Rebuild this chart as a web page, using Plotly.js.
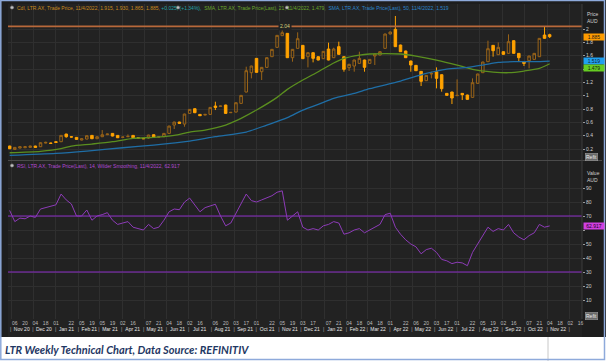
<!DOCTYPE html>
<html><head><meta charset="utf-8">
<script src="https://cdn.plot.ly/plotly-3.0.1.min.js"></script>
<style>html,body{margin:0;padding:0;background:#fff;}#chart{width:606px;height:361px;}</style>
</head><body><div id="chart"></div>
<script>
// ---- DATA (weekly candles, LTR.AX) ----
const firstWeek = '2020-10-30';
const opens = [0.245,0.195,0.215,0.22,0.225,0.245,0.235,0.29,0.29,0.31,0.31,0.425,0.385,0.375,0.335,0.35,0.405,0.355,0.385,0.415,0.435,0.405,0.375,0.385,0.405,0.37,0.36,0.365,0.415,0.38,0.385,0.435,0.56,0.605,0.575,0.735,
0.805,0.72,0.71,0.72,0.845,0.84,0.86,0.745,0.755,0.885,1.055,1.345,1.56,1.36,1.425,1.585,1.725,1.90,1.935,1.57,1.71,1.755,1.585,1.645,1.585,1.555,1.70,1.57,1.735,1.585,1.42,1.445,1.485,1.535,1.485,
1.595,1.61,1.71,1.925,1.995,1.76,1.67,1.52,1.455,1.365,1.225,1.325,1.36,1.315,1.035,1.055,1.0,1.035,1.01,0.975,1.185,1.345,1.51,1.755,1.615,1.66,1.635,1.825,1.635,1.505,1.525,1.545,1.585,1.91,1.915];
const highs = [0.25,0.23,0.24,0.24,0.25,0.25,0.30,0.31,0.295,0.315,0.41,0.43,0.395,0.38,0.36,0.405,0.41,0.39,0.485,0.43,0.44,0.41,0.385,0.42,0.41,0.375,0.365,0.415,0.42,0.39,0.44,0.55,0.61,0.61,0.73,0.80,
0.81,0.725,0.725,0.83,0.91,0.85,0.865,0.755,0.90,1.01,1.435,1.45,1.565,1.43,1.575,1.70,1.91,1.985,1.94,1.70,1.95,1.76,1.65,1.65,1.59,1.67,1.795,1.72,1.81,1.59,1.48,1.54,1.66,1.54,1.55,
1.63,1.67,1.93,1.96,2.195,1.765,1.675,1.525,1.46,1.37,1.31,1.36,1.425,1.32,1.04,1.06,1.245,1.04,1.015,1.26,1.33,1.51,1.825,1.76,1.80,1.665,1.92,1.83,1.64,1.51,1.60,1.64,1.865,2.045,1.93];
const lows = [0.20,0.19,0.21,0.215,0.22,0.22,0.23,0.285,0.28,0.295,0.305,0.37,0.375,0.34,0.33,0.345,0.35,0.35,0.38,0.41,0.39,0.365,0.37,0.38,0.365,0.36,0.35,0.355,0.37,0.375,0.38,0.43,0.50,0.58,0.535,0.73,
0.74,0.695,0.705,0.715,0.785,0.835,0.73,0.74,0.75,0.88,1.05,1.26,1.345,1.235,1.42,1.58,1.72,1.895,1.565,1.51,1.705,1.55,1.425,1.50,1.53,1.55,1.53,1.565,1.615,1.36,1.37,1.36,1.48,1.36,1.48,
1.46,1.605,1.705,1.92,1.73,1.655,1.565,1.36,1.37,1.145,1.22,1.26,1.11,1.06,1.0,0.875,0.995,0.935,0.94,0.97,1.18,1.34,1.505,1.585,1.61,1.615,1.63,1.63,1.51,1.445,1.41,1.54,1.58,1.855,1.865];
const closes = [0.205,0.225,0.235,0.235,0.245,0.225,0.295,0.30,0.285,0.30,0.405,0.385,0.38,0.345,0.355,0.40,0.355,0.385,0.415,0.425,0.395,0.37,0.38,0.39,0.37,0.365,0.355,0.41,0.375,0.385,0.435,0.545,0.605,0.585,0.725,0.795,
0.745,0.70,0.72,0.825,0.825,0.845,0.735,0.75,0.895,1.005,1.375,1.445,1.35,1.425,1.57,1.695,1.905,1.945,1.57,1.695,1.855,1.555,1.645,1.56,1.535,1.665,1.535,1.70,1.62,1.395,1.47,1.535,1.56,1.425,1.545,
1.625,1.66,1.925,1.955,1.735,1.66,1.57,1.46,1.375,1.215,1.305,1.335,1.26,1.105,1.005,0.965,1.005,1.015,0.945,1.195,1.325,1.505,1.705,1.675,1.725,1.62,1.81,1.635,1.57,1.485,1.595,1.635,1.86,1.86,1.885];

// SMA values at candle indices
const sma21Idx = [0,6,10,12,16,20,24,28,32,35,38,42,45,48,52,54,57,60,63,65,68,70,76,79,83,87,90,94,97,100,103,105];
const sma21    = [0.145,0.165,0.205,0.245,0.275,0.31,0.36,0.375,0.405,0.455,0.485,0.56,0.66,0.785,0.975,1.095,1.235,1.36,1.49,1.56,1.61,1.625,1.625,1.595,1.535,1.46,1.395,1.355,1.345,1.37,1.41,1.479];
const sma50Idx = [0,9,15,22,28,35,40,46,50,54,57,60,63,67,70,76,81,85,89,92,95,98,102,105];
const sma50    = [0.105,0.135,0.17,0.22,0.26,0.32,0.385,0.455,0.56,0.67,0.785,0.87,0.96,1.035,1.105,1.22,1.335,1.40,1.425,1.46,1.50,1.51,1.51,1.519];

// RSI(14) per candle
const rsi = [74,66,68.5,68,70,69,75,76,77,78,85.7,81.5,78.6,70,70,74.3,67,70,71,72.4,67,64,65,66,62,61,60,64,61,62,67,73,75,74.5,80,82.8,
78,73,76,77,78.4,70,63,65,72,78,85.7,81,80,81.5,83,84.5,87,88,67,70,73,62,60,61,60,63,64,66,65,57,58,60,61,58,60,
62,64,71,72,62,57,53,50,48,43,46,47,44,39,38,36,37,36.5,34.5,44,50,56,62,59,61,60,64,58,55,53,56,58,64,62,62.917];

const dayTicks = ['2020-11-06','2020-11-20','2020-12-04','2020-12-18','2021-01-01','2021-01-22','2021-02-05','2021-02-19','2021-03-05','2021-03-19','2021-04-02','2021-04-16','2021-05-07','2021-05-21','2021-06-04','2021-06-18','2021-07-02','2021-07-16','2021-08-06','2021-08-20','2021-09-03','2021-09-17','2021-10-01','2021-10-22','2021-11-05','2021-11-19','2021-12-03','2021-12-17','2022-01-07','2022-01-21','2022-02-04','2022-02-18','2022-03-04','2022-03-18','2022-04-01','2022-04-22','2022-05-06','2022-05-20','2022-06-03','2022-06-17','2022-07-01','2022-07-22','2022-08-05','2022-08-19','2022-09-02','2022-09-16','2022-10-07','2022-10-21','2022-11-04','2022-11-18','2022-12-02','2022-12-16'];
const monthLabels = ['Nov 20','Dec 20','Jan 21','Feb 21','Mar 21','Apr 21','May 21','Jun 21','Jul 21','Aug 21','Sep 21','Oct 21','Nov 21','Dec 21','Jan 22','Feb 22','Mar 22','Apr 22','May 22','Jun 22','Jul 22','Aug 22','Sep 22','Oct 22','Nov 22'];
const priceTicks = [0.2,0.4,0.6,0.8,1,1.2,1.4,1.6,1.8,2];
const rsiTicks = [10,20,30,40,50,60,70,80,90];
const resistance = 2.04;
const rsiUpper = 70, rsiLower = 30;

// ---- build ----
const dates = [];
{
  const t0 = Date.UTC(2020,9,30);
  for (let i = 0; i < closes.length; i++) dates.push(new Date(t0 + i*7*86400000).toISOString().slice(0,10));
}
// plot area spans y 4..337: price panel, RSI panel, and a thin band for the month row
const W = 606, H = 361, L = 8, R = 582, T = 4, B = 337;
const px = x => (x - L) / (R - L);
const py = y => (B - y) / (B - T);
const XRANGE = ['2020-10-27 18:00','2022-12-18'];
const MONTHS = ['Jan','Feb','Mar','Apr','May','Jun','Jul','Aug','Sep','Oct','Nov','Dec'];
const fmt = t => new Date(t).toISOString().slice(0,16).replace('T',' ');
const mStart = m => Date.UTC(2000+parseInt(m.slice(4)), MONTHS.indexOf(m.slice(0,3)), 1);
const monthMid = monthLabels.map(m => fmt(mStart(m) + 14.5*86400e3));
const monthSep = monthLabels.map(m => fmt(mStart(m) - 0.5*86400e3)).concat([fmt(Date.UTC(2022,11,1) - 0.5*86400e3)]);
const fnt = 'Liberation Sans Narrow, Liberation Sans, Arial, sans-serif';
const bandRow = 0.39; // month row height inside the label band (0 = bottom, 1 = top)

const traces = [
  {type:'candlestick', x:dates, open:opens, high:highs, low:lows, close:closes, xaxis:'x', yaxis:'y',
   increasing:{line:{color:'#9a6418', width:1}, fillcolor:'rgba(0,0,0,0)'},
   decreasing:{line:{color:'#ffa200', width:1}, fillcolor:'#ffa200'}, whiskerwidth:0, hoverinfo:'skip'},
  {type:'scatter', mode:'lines', x:sma21Idx.map(i=>dates[i]), y:sma21, yaxis:'y',
   line:{color:'#5b8f1f', width:1.3, shape:'spline', smoothing:0.7}, hoverinfo:'skip'},
  {type:'scatter', mode:'lines', x:sma50Idx.map(i=>dates[i]), y:sma50, yaxis:'y',
   line:{color:'#1f6ea6', width:1.3, shape:'spline', smoothing:0.7}, hoverinfo:'skip'},
  {type:'scatter', mode:'lines', x:dates, y:rsi, yaxis:'y2',
   line:{color:'#8d3bb8', width:1}, hoverinfo:'skip'},
  {type:'scatter', mode:'text', x:monthMid, y:monthMid.map(()=>bandRow), xaxis:'x3', yaxis:'y3', text:monthLabels,
   textposition:'middle center', textfont:{family:fnt, size:5, color:'#e6e6e6'}, hoverinfo:'skip', cliponaxis:false},
  {type:'scatter', mode:'text', x:monthSep, y:monthSep.map(()=>bandRow), xaxis:'x3', yaxis:'y3', text:monthSep.map(()=>'|'),
   textposition:'middle center', textfont:{family:fnt, size:5, color:'#a8a8a8'}, hoverinfo:'skip', cliponaxis:false}
];

const ann = [];
// headers
ann.push({xref:'paper', yref:'paper', x:px(15), y:py(7.5), xanchor:'left', yanchor:'middle', showarrow:false,
  font:{family:fnt, size:5, color:'#c98a1e'},
  text:'Cdl, LTR.AX, Trade Price, 11/4/2022, 1.915, 1.930, 1.865, 1.885, <span style="color:#22a3a8">+0.025, (+1.34%),</span>  <span style="color:#6aa82a">SMA, LTR.AX, Trade Price(Last), 21, 11/4/2022, 1.479,</span>  <span style="color:#2a86cc">SMA, LTR.AX, Trade Price(Last), 50, 11/4/2022, 1.519</span>'});
ann.push({xref:'paper', yref:'paper', x:px(15), y:py(165.5), xanchor:'left', yanchor:'middle', showarrow:false,
  font:{family:fnt, size:5, color:'#b048d0'}, text:'RSI, LTR.AX, Trade Price(Last), 14, Wilder Smoothing, 11/4/2022, 62.917'});
// axis unit labels
[['Price',14],['AUD',21],['Value',173],['AUD',180]].forEach(([t,y])=>ann.push({xref:'paper', yref:'paper', x:px(585), y:py(y), xanchor:'left', yanchor:'middle', showarrow:false, font:{family:fnt, size:5, color:'#cfcfcf'}, text:t}));
[157,316].forEach(y=>ann.push({xref:'paper', yref:'paper', x:px(584.5), y:py(y), xanchor:'left', yanchor:'middle', showarrow:false, font:{family:fnt, size:5, color:'#eeeeee'}, text:'Refit', bgcolor:'#6a6a6a', bordercolor:'#a0a0a0', borderwidth:0.5, borderpad:0.5}));
// last value boxes
const box = (yref, yv, txt, bg, fg, ys) => ann.push({xref:'paper', yref:yref, x:px(583), y:yv, yshift:ys||0, xanchor:'left', yanchor:'middle', showarrow:false, font:{family:fnt, size:5, color:fg}, text:txt, bgcolor:bg, borderpad:0, width:20, height:5.6});
box('y', closes[closes.length-1], '1.885', '#ff9c00', '#1a1a1a');
box('y', sma50[sma50.length-1], '1.519', '#20a0f0', '#102030', 0.5);
box('y', sma21[sma21.length-1], '1.479', '#66cc22', '#102010', -4);
box('y2', rsi[rsi.length-1], '62.917', '#d040e0', '#1a001a');
// resistance label
ann.push({xref:'paper', yref:'y', x:px(285), y:resistance, xanchor:'center', yanchor:'middle', showarrow:false, font:{family:fnt, size:5, color:'#d9cf7a'}, text:String(resistance), bgcolor:'#222222', borderpad:1});
// caption
ann.push({xref:'paper', yref:'paper', x:px(3), y:py(349.5), xanchor:'left', yanchor:'middle', showarrow:false,
  font:{family:'Lato, Open Sans, sans-serif', size:11, color:'#1f3864'},
  text:'<b><i>LTR Weekly Technical Chart, Data Source: REFINITIV</i></b>'});

const shapes = [
  {type:'rect', xref:'paper', yref:'paper', x0:px(-2), x1:px(610), y0:py(337), y1:py(365), fillcolor:'#ffffff', line:{width:0}},
  {type:'line', xref:'paper', yref:'paper', x0:px(548), x1:px(548), y0:py(337), y1:py(361), line:{color:'#c8c8c8', width:1}},
  {type:'rect', xref:'paper', yref:'paper', x0:px(0.8), x1:px(604.5), y0:py(0.5), y1:py(359.5), line:{color:'#8eaadb', width:1.5}, fillcolor:'rgba(0,0,0,0)'},
  {type:'line', xref:'paper', yref:'y', x0:0, x1:1, y0:resistance, y1:resistance, line:{color:'#b8683a', width:1.6}},
  {type:'line', xref:'paper', yref:'y2', x0:0, x1:1, y0:rsiUpper, y1:rsiUpper, line:{color:'#8a2cc4', width:1.2}},
  {type:'line', xref:'paper', yref:'y2', x0:0, x1:1, y0:rsiLower, y1:rsiLower, line:{color:'#8a2cc4', width:1.2}},
  {type:'line', xref:'paper', yref:'paper', x0:0, x1:px(602), y0:py(160.5), y1:py(160.5), line:{color:'#4a4a4a', width:1}},
  {type:'line', xref:'paper', yref:'paper', x0:1, x1:1, y0:py(319), y1:1, line:{color:'#3c3c3c', width:1}}
];
[[12,7.5],[178,7.5],[287,7.5],[12,165.5]].forEach(([x,y])=>shapes.push({type:'circle', xref:'paper', yref:'paper', x0:px(x-1.6), x1:px(x+1.6), y0:py(y+1.6), y1:py(y-1.6), fillcolor:'#bfbfbf', line:{color:'#888', width:0.5}}));

const layout = {
  width:W, height:H, paper_bgcolor:'#1d1d1d', plot_bgcolor:'#222222',
  margin:{l:L, r:W-R, t:T, b:H-B}, showlegend:false,
  font:{family:fnt, size:5, color:'#cfcfcf'},
  xaxis:{type:'date', range:XRANGE, anchor:'y2', rangeslider:{visible:false},
    tickmode:'array', tickvals:dayTicks, ticktext:dayTicks.map(d=>d.slice(8,10)), tickangle:0, tickfont:{family:fnt, size:5, color:'#bdbdbd'},
    ticks:'', showgrid:false, zeroline:false, showline:false, fixedrange:true, automargin:false,
    minor:{tick0:'2020-11-01', dtick:'M1', showgrid:true, gridcolor:'#2f2f2f', gridwidth:1, ticks:''}},
  xaxis3:{type:'date', range:XRANGE, anchor:'y3', visible:false, showgrid:false, fixedrange:true},
  yaxis:{domain:[py(160), 1], range:[0.036, 2.375], side:'right', tickvals:priceTicks, ticktext:priceTicks.map(v=>v===1.4?'':String(v)),
    ticks:'outside', ticklen:2, tickcolor:'#999', tickfont:{family:fnt, size:5, color:'#cfcfcf'},
    showgrid:true, gridcolor:'#2f2f2f', zeroline:false, showline:false, fixedrange:true},
  yaxis2:{domain:[py(319), py(161)], range:[-3.57, 109.3], side:'right', tickvals:rsiTicks, ticktext:rsiTicks.map(v=>v===60?'':String(v)),
    ticks:'outside', ticklen:2, tickcolor:'#999', tickfont:{family:fnt, size:5, color:'#cfcfcf'},
    showgrid:true, gridcolor:'#2f2f2f', zeroline:false, showline:false, fixedrange:true},
  yaxis3:{domain:[0, py(319)], range:[0, 1], visible:false, showgrid:false, fixedrange:true},
  annotations:ann, shapes:shapes
};
Plotly.newPlot('chart', traces, layout, {staticPlot:true, displayModeBar:false});
</script></body></html>
